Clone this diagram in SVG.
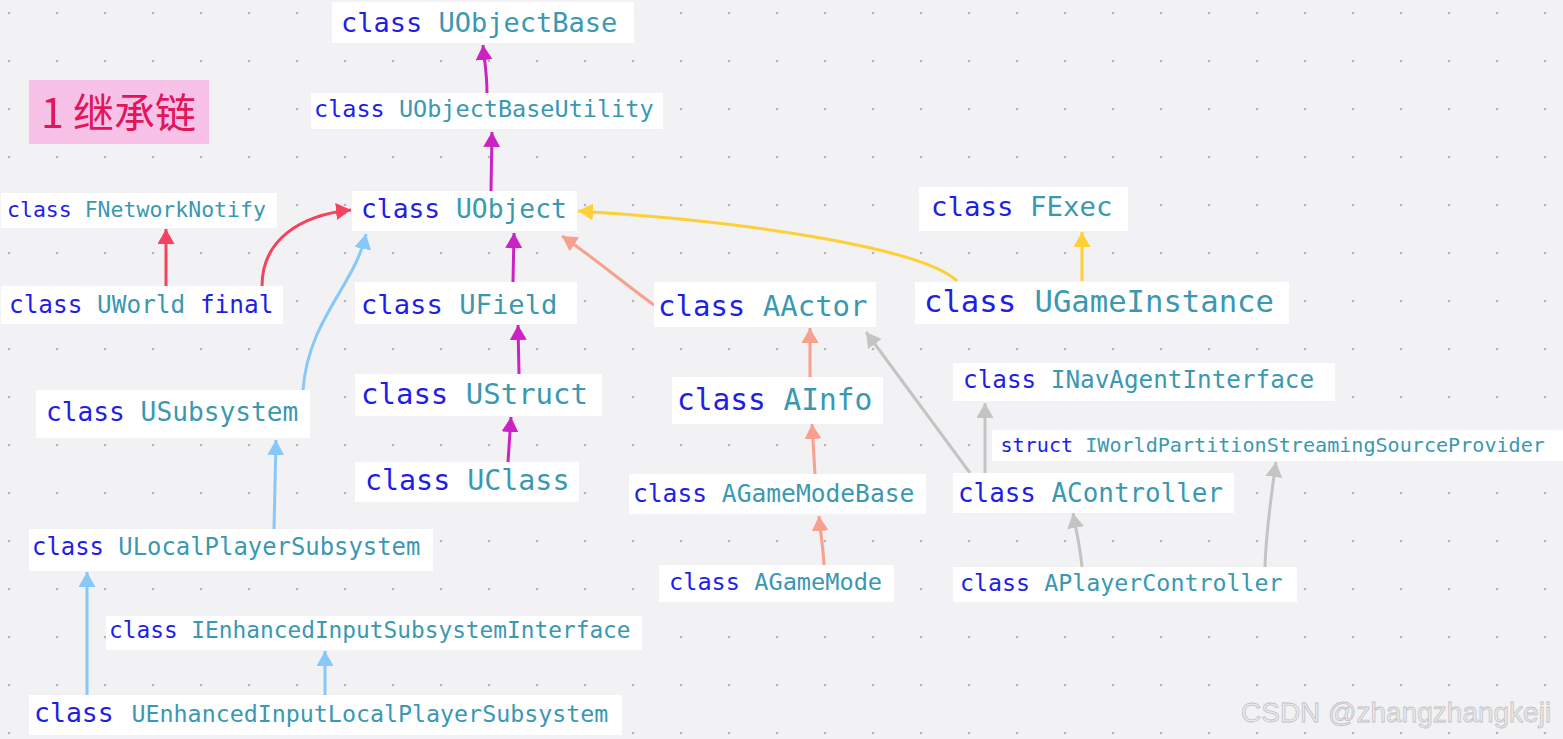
<svg xmlns="http://www.w3.org/2000/svg" width="1563" height="739" viewBox="0 0 1563 739">
<defs>
<pattern id="dots" x="0" y="0" width="48" height="48" patternUnits="userSpaceOnUse"><circle cx="9" cy="13" r="1.3" fill="#b4b4b8"/></pattern>
<marker id="aM" markerUnits="userSpaceOnUse" markerWidth="15" markerHeight="17" refX="15" refY="8.5" orient="auto"><path d="M0,0 L15,8.5 L0,17 z" fill="#cc22c4"/></marker>
<marker id="aR" markerUnits="userSpaceOnUse" markerWidth="15" markerHeight="17" refX="15" refY="8.5" orient="auto"><path d="M0,0 L15,8.5 L0,17 z" fill="#f5425f"/></marker>
<marker id="aB" markerUnits="userSpaceOnUse" markerWidth="15" markerHeight="17" refX="15" refY="8.5" orient="auto"><path d="M0,0 L15,8.5 L0,17 z" fill="#88c8f8"/></marker>
<marker id="aS" markerUnits="userSpaceOnUse" markerWidth="15" markerHeight="17" refX="15" refY="8.5" orient="auto"><path d="M0,0 L15,8.5 L0,17 z" fill="#f8a08e"/></marker>
<marker id="aY" markerUnits="userSpaceOnUse" markerWidth="15" markerHeight="17" refX="15" refY="8.5" orient="auto"><path d="M0,0 L15,8.5 L0,17 z" fill="#fdd035"/></marker>
<marker id="aG" markerUnits="userSpaceOnUse" markerWidth="15" markerHeight="17" refX="15" refY="8.5" orient="auto"><path d="M0,0 L15,8.5 L0,17 z" fill="#c4c4c4"/></marker>
</defs>
<style>
.box{fill:#ffffff}
.t{font-family:"DejaVu Sans Mono","Liberation Mono",monospace}
.k{fill:#1e1ee8}
.n{fill:#3a98b2}
.c{fill:none;stroke-width:3}
.m{stroke:#cc22c4;marker-end:url(#aM)}
.r{stroke:#f5425f;marker-end:url(#aR)}
.b{stroke:#88c8f8;marker-end:url(#aB)}
.s{stroke:#f8a08e;marker-end:url(#aS)}
.y{stroke:#fdd035;marker-end:url(#aY)}
.g{stroke:#c4c4c4;marker-end:url(#aG)}
</style>
<rect width="1563" height="739" fill="#f2f2f4"/>
<rect width="1563" height="739" fill="url(#dots)"/>

<g id="title">
<rect x="29" y="80" width="180" height="64" fill="#f7c1e8"/>
<text x="41" y="128" font-family="'Noto Sans CJK SC',sans-serif" font-size="41" fill="#e0155a">1 继承链</text>
</g>

<g id="connectors">
<path class="c m" d="M487,93 C487,72 484,58 483,45"/>
<path class="c m" d="M491,191 L492,132"/>
<path class="c m" d="M513,282 L514,233"/>
<path class="c m" d="M519,374 L518,325"/>
<path class="c m" d="M508,462 L511,417"/>
<path class="c r" d="M166,286 L166,229"/>
<path class="c r" d="M262,286 C262,240 300,215 351,210"/>
<path class="c b" d="M303,390 C308,320 355,285 366,234"/>
<path class="c b" d="M274,529 L276,440"/>
<path class="c b" d="M87,695 L87,572"/>
<path class="c b" d="M325,695 L325,651"/>
<path class="c s" d="M654,305 C620,280 590,255 562,236"/>
<path class="c s" d="M810,377 L810,328"/>
<path class="c s" d="M815,474 C814,455 813,440 812,424"/>
<path class="c s" d="M824,565 C823,545 820,530 819,516"/>
<path class="c y" d="M957,281 C925,250 760,222 578,211"/>
<path class="c y" d="M1082,281 L1082,232"/>
<path class="c g" d="M970,473 L866,332"/>
<path class="c g" d="M985,473 L985,403"/>
<path class="c g" d="M1082,567 C1080,545 1076,530 1073,513"/>
<path class="c g" d="M1265,567 C1266,530 1272,490 1276,462"/>
</g>

<g id="UObjectBase"><rect class="box" x="332" y="2" width="302" height="41"/><text class="t" x="341" y="32" font-size="27"><tspan class="k">class </tspan><tspan class="n">UObjectBase</tspan></text></g>
<g id="UObjectBaseUtility"><rect class="box" x="311" y="93" width="352" height="36"/><text class="t" x="314" y="117" font-size="23.5"><tspan class="k">class </tspan><tspan class="n">UObjectBaseUtility</tspan></text></g>
<g id="UObject"><rect class="box" x="352" y="191" width="225" height="40"/><text class="t" x="361" y="218" font-size="26.3"><tspan class="k">class </tspan><tspan class="n">UObject</tspan></text></g>
<g id="FNetworkNotify"><rect class="box" x="1" y="193" width="276" height="35"/><text class="t" x="7" y="217" font-size="21.5"><tspan class="k">class </tspan><tspan class="n">FNetworkNotify</tspan></text></g>
<g id="UWorld"><rect class="box" x="1" y="286" width="282" height="38"/><text class="t" x="9" y="313" font-size="24.4"><tspan class="k">class </tspan><tspan class="n">UWorld </tspan><tspan class="k">final</tspan></text></g>
<g id="USubsystem"><rect class="box" x="36" y="390" width="274" height="48"/><text class="t" x="46" y="421" font-size="26.2"><tspan class="k">class </tspan><tspan class="n">USubsystem</tspan></text></g>
<g id="UField"><rect class="box" x="355" y="282" width="222" height="42"/><text class="t" x="361" y="314" font-size="27.2"><tspan class="k">class </tspan><tspan class="n">UField</tspan></text></g>
<g id="UStruct"><rect class="box" x="355" y="374" width="247" height="42"/><text class="t" x="361" y="403.5" font-size="29"><tspan class="k">class </tspan><tspan class="n">UStruct</tspan></text></g>
<g id="UClass"><rect class="box" x="355" y="462" width="224" height="40"/><text class="t" x="365" y="489.5" font-size="28.3"><tspan class="k">class </tspan><tspan class="n">UClass</tspan></text></g>
<g id="AActor"><rect class="box" x="654" y="282" width="222" height="45"/><text class="t" x="658" y="316" font-size="29"><tspan class="k">class </tspan><tspan class="n">AActor</tspan></text></g>
<g id="AInfo"><rect class="box" x="672" y="377" width="211" height="47"/><text class="t" x="677" y="410" font-size="29.5"><tspan class="k">class </tspan><tspan class="n">AInfo</tspan></text></g>
<g id="AGameModeBase"><rect class="box" x="629" y="474" width="297" height="40"/><text class="t" x="633" y="502" font-size="24.6"><tspan class="k">class </tspan><tspan class="n">AGameModeBase</tspan></text></g>
<g id="AGameMode"><rect class="box" x="659" y="565" width="235" height="37"/><text class="t" x="669" y="590" font-size="23.6"><tspan class="k">class </tspan><tspan class="n">AGameMode</tspan></text></g>
<g id="FExec"><rect class="box" x="919" y="187" width="209" height="44"/><text class="t" x="931" y="216" font-size="27.4"><tspan class="k">class </tspan><tspan class="n">FExec</tspan></text></g>
<g id="UGameInstance"><rect class="box" x="915" y="282" width="374" height="42"/><text class="t" x="924" y="312" font-size="30.6"><tspan class="k">class </tspan><tspan class="n">UGameInstance</tspan></text></g>
<g id="INavAgentInterface"><rect class="box" x="953" y="363" width="382" height="38"/><text class="t" x="963" y="388" font-size="24.3"><tspan class="k">class </tspan><tspan class="n">INavAgentInterface</tspan></text></g>
<g id="IWorldPartitionStreamingSourceProvider"><rect class="box" x="992" y="430" width="571" height="31"/><text class="t" x="1000.5" y="452" font-size="20.1"><tspan class="k">struct </tspan><tspan class="n">IWorldPartitionStreamingSourceProvider</tspan></text></g>
<g id="AController"><rect class="box" x="953" y="473" width="281" height="40"/><text class="t" x="958" y="502" font-size="25.9"><tspan class="k">class </tspan><tspan class="n">AController</tspan></text></g>
<g id="APlayerController"><rect class="box" x="953" y="567" width="344" height="35"/><text class="t" x="960" y="591" font-size="23.3"><tspan class="k">class </tspan><tspan class="n">APlayerController</tspan></text></g>
<g id="ULocalPlayerSubsystem"><rect class="box" x="29" y="529" width="404" height="42"/><text class="t" x="32" y="555" font-size="23.9"><tspan class="k">class </tspan><tspan class="n">ULocalPlayerSubsystem</tspan></text></g>
<g id="IEnhancedInputSubsystemInterface"><rect class="box" x="106" y="616" width="536" height="34"/><text class="t" x="109" y="638" font-size="22.8"><tspan class="k">class </tspan><tspan class="n">IEnhancedInputSubsystemInterface</tspan></text></g>
<g id="UEnhancedInputLocalPlayerSubsystem"><rect class="box" x="29" y="695" width="593" height="40"/><text class="t" y="722"><tspan class="k" x="34" font-size="26.5">class</tspan><tspan class="n" x="131.5" font-size="23.3">UEnhancedInputLocalPlayerSubsystem</tspan></text></g>

<g id="watermark"><text x="1241" y="722" font-family="'Liberation Sans',sans-serif" font-size="28" fill="#ececee" stroke="#c2c2c6" stroke-width="0.8">CSDN @zhangzhangkeji</text></g>
</svg>
